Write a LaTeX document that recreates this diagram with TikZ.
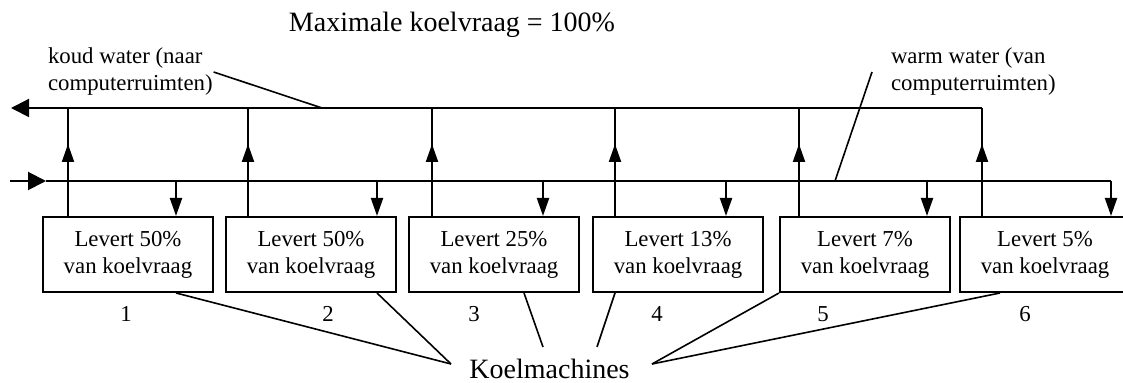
\documentclass[tikz,border=0pt]{standalone}
\usepackage{fontspec}
\setmainfont{Liberation Serif}
\usetikzlibrary{calc,positioning,arrows.meta}

\begin{document}
\begin{tikzpicture}[x=0.5pt,y=-0.5pt,line width=1pt,>={Triangle[length=9pt,width=6pt]},
  every node/.style={font=\fontsize{11.4}{13.5}\selectfont},
  machine/.style={draw,minimum width=85pt,minimum height=37.5pt,inner sep=0pt,align=center},
  big/.style={font=\fontsize{14}{17}\selectfont},
  pipetip/.style={-{Triangle[length=9pt,width=9pt]}},
  leader/.style={line width=0.8pt}]
\useasboundingbox (0,0) rectangle (1123,383);
\node[big,anchor=base] (title) at (452,32) {Maximale koelvraag = 100\%};
% leidingen
\draw[pipetip] (982,108) -- (11,108);
\draw[pipetip] (10,181) -- (46,181);
\draw (46,181) -- (1111,181);
\foreach \i/\xl/\xu/\xd/\pct/\xn in {1/43/68/176/50/126,2/226/248/377/50/328,3/409/432/543/25/474,
    4/593/615/726/13/657,5/780/799/927/7/823,6/960/982/1111/5/1025}{
  \node[machine] (m\i) at (\xl+85,254.5) {Levert \pct\%\\van koelvraag};
  \node[anchor=base] (n\i) at (\xn,322) {\i};
  \coordinate (u\i) at (\xu,108);
  \coordinate (d\i) at (\xd,181);
  \draw[->] (u\i |- m\i.north) -- ($(u\i)+(0,36)$);
  \draw (u\i |- m\i.north) -- (u\i);
  \draw[->] (d\i) -- (d\i |- m\i.north);
}
% labels
\node[align=left,anchor=west,inner sep=0pt] (koud) at (47,72) {koud water (naar\\computerruimten)};
\node[align=left,anchor=west,inner sep=0pt] (warm) at (890,72) {warm water (van\\computerruimten)};
\coordinate (kp) at (322,108);
\coordinate (wp) at (835,181);
\draw[leader] (koud.east) -- (kp);
\draw[leader] ([xshift=-9pt]warm.west) -- (wp);
% koelmachines
\node[big,anchor=base,inner sep=0pt,text depth=0pt] (km) at (549.5,379) {Koelmachines};
\coordinate (kl) at (451,364);
\coordinate (kr) at (652,364);
\coordinate (k3) at (543,347);
\coordinate (k4) at (597,347);
\draw[leader] (d1 |- m1.south) -- (kl);
\draw[leader] (d2 |- m2.south) -- (kl);
\draw[leader] ($(m3.south)+(30,0)$) -- (k3);
\draw[leader] (u4 |- m4.south) -- (k4);
\draw[leader] (m5.south west) -- (kr);
\draw[leader] ($(m6.south)+(-45,0)$) -- (kr);
\end{tikzpicture}
\end{document}
